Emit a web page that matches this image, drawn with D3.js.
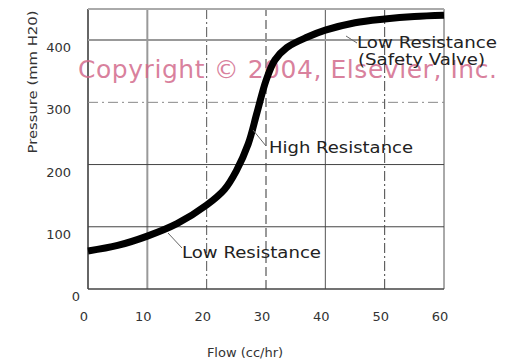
<!DOCTYPE html>
<html>
<head>
<meta charset="utf-8">
<script src="https://cdn.jsdelivr.net/npm/d3@7"></script>
<style>
  body { margin: 0; background: #fff; }
  text { font-family: "DejaVu Sans", sans-serif; }
</style>
</head>
<body>
<script>
// data
const flow     = [0, 5, 10, 15, 20, 23, 25, 27, 28.5, 30, 31.5, 33.5, 37, 40, 45, 50, 55, 60];
const pressure = [61, 70, 85, 105, 135, 160, 190, 233, 284, 335, 368, 388, 405, 416, 428, 434, 438, 440];
const xTicks = [0, 10, 20, 30, 40, 50, 60];
const yTicks = [0, 100, 200, 300, 400];

const W = 505, H = 361;
const svg = d3.select("body").append("svg")
              .attr("width", W)
              .attr("height", H);

const x = d3.scaleLinear().domain([0, 60]).range([88, 444]);
const y = d3.scaleLinear().domain([0, 450]).range([289, 9]);

// grid lines, each with its own look like the scanned chart
const vStyle = {
  0:  {c: "#333", w: 1.5, d: null},
  10: {c: "#999", w: 2, d: null},
  20: {c: "#555", w: 1, d: "10,3,2,3"},
  30: {c: "#999", w: 2, d: "9,4"},
  40: {c: "#555", w: 1, d: null},
  50: {c: "#444", w: 1, d: "10,3,2,3"},
  60: {c: "#555", w: 1, d: null}
};
const hStyle = {
  0:   {c: "#444", w: 1.5, d: null},
  100: {c: "#444", w: 1, d: null},
  200: {c: "#444", w: 1, d: null},
  300: {c: "#888", w: 1, d: "10,4,2,4"},
  400: {c: "#999", w: 2, d: null},
  450: {c: "#aaa", w: 2, d: null}
};

const grid = svg.append("g");
xTicks.forEach(t => {
  const s = vStyle[t];
  grid.append("line")
      .attr("x1", x(t)).attr("x2", x(t))
      .attr("y1", y(0)).attr("y2", y(450))
      .attr("stroke", s.c).attr("stroke-width", s.w)
      .attr("stroke-dasharray", s.d);
});
yTicks.concat([450]).forEach(t => {
  const s = hStyle[t];
  grid.append("line")
      .attr("x1", x(0)).attr("x2", x(60))
      .attr("y1", y(t)).attr("y2", y(t))
      .attr("stroke", s.c).attr("stroke-width", s.w)
      .attr("stroke-dasharray", s.d);
});

// tick labels
svg.append("g").selectAll("text")
   .data(xTicks).enter().append("text")
   .attr("x", d => x(d) - 4)
   .attr("y", 321)
   .attr("text-anchor", "middle")
   .attr("font-size", 13)
   .attr("fill", "#333")
   .text(d => d);

svg.append("g").selectAll("text")
   .data(yTicks).enter().append("text")
   .attr("x", d => d === 0 ? 80 : 71)
   .attr("y", d => y(d) + 12)
   .attr("text-anchor", "end")
   .attr("font-size", 13)
   .attr("fill", "#333")
   .text(d => d);

// axis titles
svg.append("text")
   .attr("x", 245).attr("y", 357)
   .attr("text-anchor", "middle")
   .attr("font-size", 13)
   .attr("fill", "#333")
   .text("Flow (cc/hr)");

svg.append("text")
   .attr("transform", "translate(37,82) rotate(-90)")
   .attr("text-anchor", "middle")
   .attr("font-size", 13)
   .attr("fill", "#333")
   .attr("textLength", 143)
   .attr("lengthAdjust", "spacingAndGlyphs")
   .text("Pressure (mm H20)");

// watermark
svg.append("text")
   .attr("x", 78).attr("y", 78)
   .attr("font-family", "Liberation Sans, Arial, sans-serif")
   .attr("font-size", 25)
   .attr("fill", "#d26a8c")
   .attr("fill-opacity", 0.85)
   .attr("textLength", 419)
   .text("Copyright © 2004, Elsevier, Inc.");

// curve
const pts = flow.map((f, i) => [f, pressure[i]]);
svg.append("path")
   .datum(pts)
   .attr("fill", "none")
   .attr("stroke", "#000")
   .attr("stroke-width", 7)
   .attr("stroke-linecap", "butt")
   .attr("d", d3.line().x(d => x(d[0])).y(d => y(d[1])).curve(d3.curveCatmullRom.alpha(0.5)));

// annotations with leader lines
const notes = [
  {lx1: 168, ly1: 233, lx2: 182, ly2: 248, tx: 182, ty: 258, len: 139, text: "Low Resistance"},
  {lx1: 253, ly1: 130, lx2: 266, ly2: 146, tx: 269, ty: 153, len: 144, text: "High Resistance"},
  {lx1: 346, ly1: 36, lx2: 357, ly2: 43, tx: 357, ty: 48, len: 140, text: "Low Resistance"},
  {lx1: null, tx: 358, ty: 65, len: 127, text: "(Safety Valve)"}
];
const ann = svg.append("g");
notes.forEach(n => {
  if (n.lx1 !== null) {
    ann.append("line")
       .attr("x1", n.lx1).attr("y1", n.ly1)
       .attr("x2", n.lx2).attr("y2", n.ly2)
       .attr("stroke", "#666").attr("stroke-width", 1);
  }
  ann.append("text")
     .attr("x", n.tx).attr("y", n.ty)
     .attr("font-size", 15)
     .attr("fill", "#222")
     .attr("textLength", n.len)
     .attr("lengthAdjust", "spacingAndGlyphs")
     .text(n.text);
});
</script>
</body>
</html>
